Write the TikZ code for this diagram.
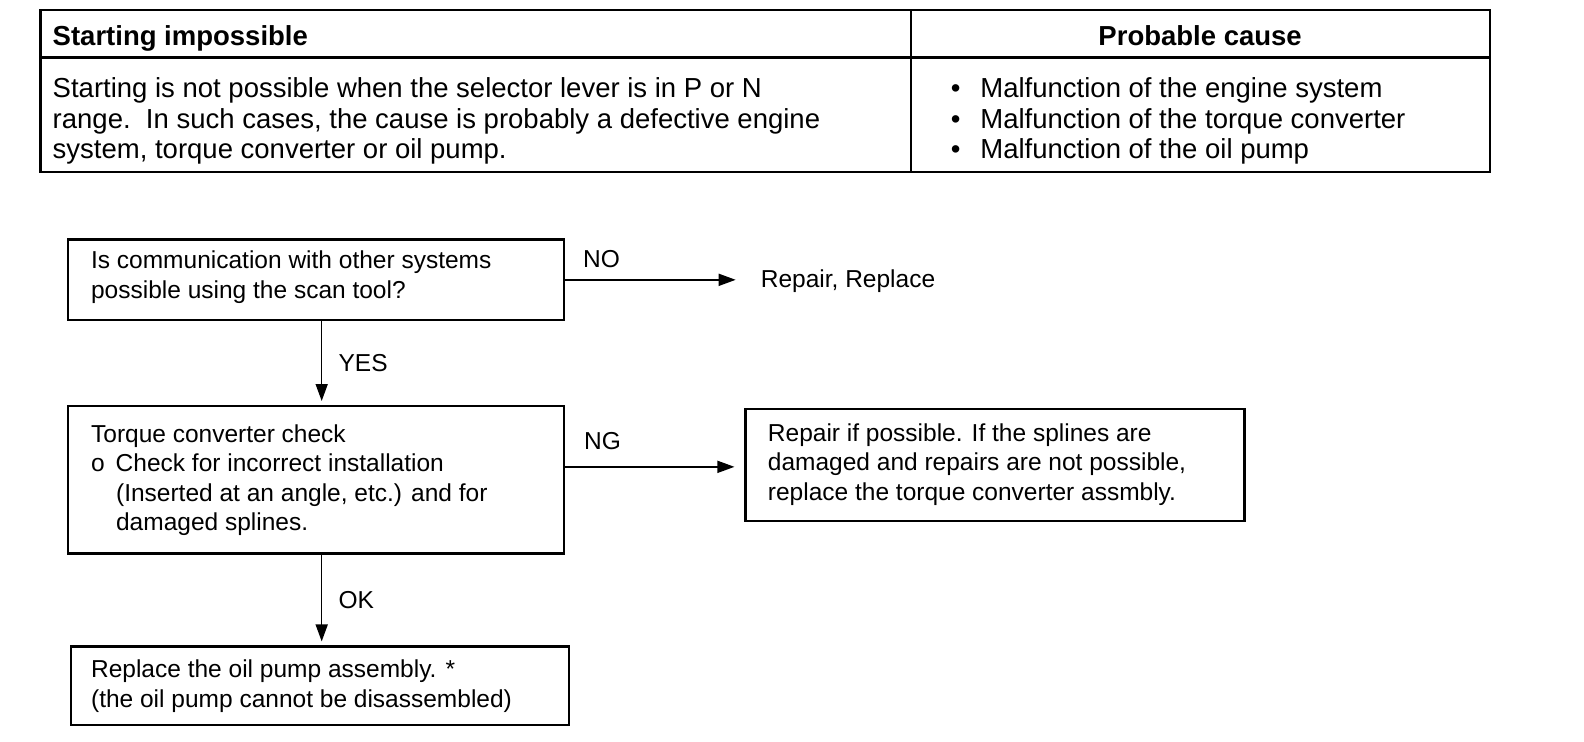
\documentclass[tikz,border=0pt]{standalone}
\usepackage{fontspec}
\setmainfont{Liberation Sans}
\usetikzlibrary{arrows.meta,fit}
\begin{document}
\begin{tikzpicture}[x=1.0102pt,y=-1.0102pt,
  tline/.style={line width=2.2pt},
  ttxt/.style={anchor=base west, inner sep=0pt, align=left, font=\fontsize{27.5}{30.3}\selectfont},
  thead/.style={anchor=base, inner sep=0pt, font=\fontsize{27.5}{30}\selectfont\bfseries},
  box/.style={draw, line width=2.2pt, inner sep=0pt},
  ftxt/.style={anchor=base west, inner sep=0pt, align=left, font=\fontsize{24.5}{29.3}\selectfont},
  arr/.style={line width=1.6pt, -{Triangle[length=17pt,width=12pt]}}
]
\path[use as bounding box, fill=white] (0,0) rectangle (1568,734.5);
% table
\draw[tline] (40,10) rectangle (1475,170);
\draw[tline] (40,57) -- (1475,57);
\draw[tline] (902,10) -- (902,170);
\node[ttxt, font=\fontsize{27.5}{30}\selectfont\bfseries] (h1) at (52,45) {Starting impossible};
\node[thead] (h2) at (1188,45) {Probable cause};
\node[ttxt] (t1) at (52,157) {Starting is not possible when the selector lever is in P or N\\range.\ \ In such cases, the cause is probably a defective engine\\system, torque converter or oil pump.};
\node[ttxt] (t2) at (941,157) {•\hspace{20pt}Malfunction of the engine system\\•\hspace{20pt}Malfunction of the torque converter\\•\hspace{20pt}Malfunction of the oil pump};
% flowchart boxes
\node[box, fit={(67,237) (558,317)}] (b1) {};
\node[ftxt] (b1t) at (90,295) {Is communication with other systems\\possible using the scan tool?};
\node[box, fit={(67,402) (558,548)}] (b2) {};
\node[ftxt] (b2t) at (90,525) {Torque converter check\\o\hspace{11pt}Check for incorrect installation\\\hspace{25pt}(Inserted at an angle, etc.) and for\\\hspace{25pt}damaged splines.};
\node[box, fit={(738,405) (1232,516)}] (b3) {};
\node[ftxt] (b3t) at (760,495) {Repair if possible. If the splines are\\damaged and repairs are not possible,\\replace the torque converter assmbly.};
\node[box, fit={(70,640) (563,718)}] (b4) {};
\node[ftxt] (b4t) at (90,700) {Replace the oil pump assembly. *\\(the oil pump cannot be disassembled)};
\node[ftxt] (rr) at (753,285) {Repair, Replace};
% labels
\node[ftxt] (lno) at (577,265) {NO};
\node[ftxt] (lyes) at (335,368) {YES};
\node[ftxt] (lng) at (578,445) {NG};
\node[ftxt] (lok) at (335,602) {OK};
% connectors
\draw[arr] (b1.east) -- ([xshift=-25pt]rr.west |- b1.east);
\draw[arr, shorten >=4pt] ([xshift=6pt]b1.south) -- ([xshift=6pt]b1.south |- b2.north);
\draw[arr, shorten >=10pt] ([yshift=13pt]b2.east) -- ([yshift=13pt]b2.east -| b3.west);
\draw[arr, shorten >=4pt] ([xshift=6pt]b2.south) -- ([xshift=6pt]b2.south |- b4.north);
\end{tikzpicture}
\end{document}
